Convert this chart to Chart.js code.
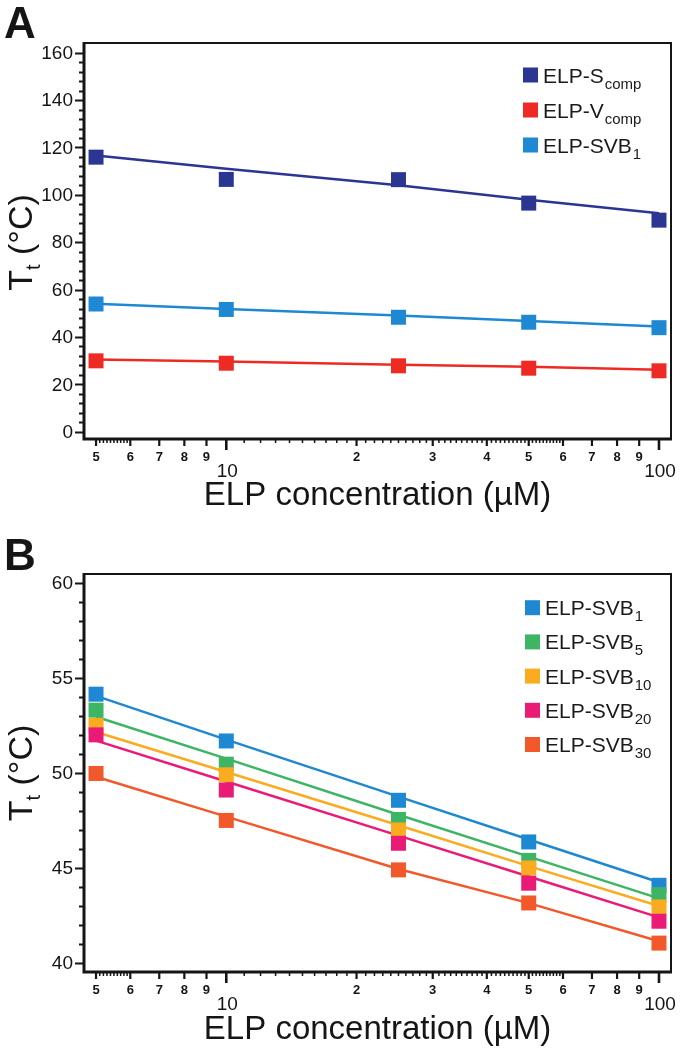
<!DOCTYPE html>
<html>
<head>
<meta charset="utf-8">
<script src="https://cdn.jsdelivr.net/npm/chart.js@4.4.1/dist/chart.umd.min.js"></script>
<style>
    body { margin: 0; background: #fff; }
    canvas { display: block; }
</style>
</head>
<body>
<canvas id="chartA" width="686" height="525"></canvas>
<canvas id="chartB" width="686" height="525"></canvas>
<script>
// concentrations (uM) shared by both panels
const concentrations = [5, 10, 25, 50, 100];

// panel A: measured Tt and fitted line
const sCompPoints = [115.9, 106.5, 106.4, 96.5, 89.3];
const sCompFit    = [116.6, 111.0, 104.0, 97.9, 92.2];
const vCompPoints = [29.9, 28.9, 27.8, 26.8, 25.7];
const vCompFit    = [30.5, 29.6, 28.2, 27.4, 26.1];
const svb1APoints = [53.9, 51.6, 48.3, 46.2, 43.9];
const svb1AFit    = [54.0, 51.8, 49.0, 46.7, 44.4];

// panel B
const svb1Points  = [54.14, 51.68, 48.56, 46.37, 44.09];
const svb1Fit     = [54.05, 51.75, 48.75, 46.5, 44.25];
const svb5Points  = [53.3, 50.46, 47.55, 45.4, 43.6];
const svb5Fit     = [52.95, 50.75, 47.8, 45.6, 43.4];
const svb10Points = [52.5, 49.9, 47.0, 45.0, 42.95];
const svb10Fit    = [52.15, 50.05, 47.25, 45.1, 43.0];
const svb20Points = [52.0, 49.1, 46.3, 44.2, 42.2];
const svb20Fit    = [51.7, 49.55, 46.7, 44.55, 42.4];
const svb30Points = [49.97, 47.5, 44.9, 43.16, 41.05];
const svb30Fit    = [49.8, 47.7, 44.95, 43.15, 41.15];

// tick labels on the log axis
const xMidTicks = [5, 6, 7, 8, 9, 20, 30, 40, 50, 60, 70, 80, 90];
const xMidLabels = ['5', '6', '7', '8', '9', '2', '3', '4', '5', '6', '7', '8', '9'];
const xBigTicks = [10, 100];
const xBigLabels = ['10', '100'];
const yTicksA = [0, 20, 40, 60, 80, 100, 120, 140, 160];
const yTicksB = [40, 45, 50, 55, 60];

const FONT = '"Liberation Sans", Arial, sans-serif';

function pts(values) {
    return values.map((v, i) => ({ x: concentrations[i], y: v }));
}

function pointSet(label, sub, values, color, order) {
    return {
        label: label, sub: sub,
        data: pts(values),
        showLine: false,
        pointStyle: 'rect',
        pointRadius: 10.6,
        pointBackgroundColor: color,
        pointBorderWidth: 0,
        order: order
    };
}

function lineSet(values, color) {
    return {
        data: pts(values),
        borderColor: color,
        borderWidth: 2.5,
        pointRadius: 0,
        tension: 0,
        fill: false,
        order: 20
    };
}

function axesPlugin(cfg) {
    return {
        id: 'axes',
        afterDatasetsDraw(chart) {
            const ctx = chart.ctx;
            const xs = chart.scales.x, ys = chart.scales.y, a = chart.chartArea;
            ctx.save();
            ctx.strokeStyle = '#151515';
            ctx.fillStyle = '#151515';

            // frame
            ctx.lineWidth = 2;
            ctx.beginPath();
            ctx.moveTo(a.left, a.top);
            ctx.lineTo(a.right, a.top);
            ctx.lineTo(a.right, a.bottom);
            ctx.stroke();
            ctx.lineWidth = 3;
            ctx.beginPath();
            ctx.moveTo(a.left, a.top - 1);
            ctx.lineTo(a.left, a.bottom);
            ctx.lineTo(a.right + 1, a.bottom);
            ctx.stroke();

            // y ticks
            const step = cfg.yMinor;
            ctx.lineWidth = 2;
            for (let v = cfg.yTicks[0]; v <= cfg.yTicks[cfg.yTicks.length - 1] + 1e-9; v += step) {
                const py = Math.round(ys.getPixelForValue(v)) + 0.5;
                const major = cfg.yTicks.some(t => Math.abs(t - v) < 1e-6);
                ctx.beginPath();
                ctx.moveTo(a.left - (major ? 9 : 5), py);
                ctx.lineTo(a.left, py);
                ctx.stroke();
            }
            ctx.font = '19px ' + FONT;
            ctx.textAlign = 'right';
            ctx.textBaseline = 'middle';
            cfg.yTicks.forEach(v => {
                ctx.fillText(String(v), a.left - 11, ys.getPixelForValue(v) + 1);
            });

            // x ticks: tiny ones
            ctx.lineWidth = 1.5;
            const tiny = [];
            for (let k = 1; k < 10; k++) tiny.push(5 + k / 10);
            for (let k = 11; k < 60; k++) if (k % 10 !== 0) tiny.push(k);
            tiny.forEach(v => {
                const px = xs.getPixelForValue(v);
                ctx.beginPath();
                ctx.moveTo(px, a.bottom);
                ctx.lineTo(px, a.bottom + 4);
                ctx.stroke();
            });
            ctx.lineWidth = 2.2;
            xMidTicks.forEach(v => {
                const px = xs.getPixelForValue(v);
                ctx.beginPath();
                ctx.moveTo(px, a.bottom);
                ctx.lineTo(px, a.bottom + 7);
                ctx.stroke();
            });
            ctx.lineWidth = 2.6;
            xBigTicks.forEach(v => {
                const px = xs.getPixelForValue(v);
                ctx.beginPath();
                ctx.moveTo(px, a.bottom);
                ctx.lineTo(px, a.bottom + 11);
                ctx.stroke();
            });
            ctx.textAlign = 'center';
            ctx.font = 'bold 13px ' + FONT;
            xMidTicks.forEach((v, i) => {
                ctx.fillText(xMidLabels[i], xs.getPixelForValue(v), a.bottom + 18);
            });
            ctx.font = '19px ' + FONT;
            xBigTicks.forEach((v, i) => {
                ctx.fillText(xBigLabels[i], xs.getPixelForValue(v) + 1, a.bottom + 33);
            });

            // x title
            ctx.font = '33px ' + FONT;
            ctx.fillText('ELP concentration (\u00b5M)', (a.left + a.right) / 2, a.bottom + cfg.xTitleOffset);

            // y title, rotated
            ctx.save();
            ctx.translate(cfg.yTitleX, (a.top + a.bottom) / 2 + cfg.yTitleShift);
            ctx.rotate(-Math.PI / 2);
            ctx.textBaseline = 'alphabetic';
            ctx.textAlign = 'left';
            const big = '34px ' + FONT, small = '20px ' + FONT;
            ctx.font = big; const wT = ctx.measureText('T').width;
            ctx.font = small; const wt = ctx.measureText('t').width;
            ctx.font = big; const wR = ctx.measureText(' (\u00b0C)').width;
            let sx = -(wT + wt + wR) / 2;
            ctx.font = big; ctx.fillText('T', sx, 0); sx += wT;
            ctx.font = small; ctx.fillText('t', sx, 8); sx += wt;
            ctx.font = big; ctx.fillText(' (\u00b0C)', sx, 0);
            ctx.restore();

            // panel letter
            ctx.textAlign = 'left';
            ctx.textBaseline = 'alphabetic';
            ctx.font = 'bold 44px ' + FONT;
            ctx.fillText(cfg.letter, 4, cfg.letterY);

            // legend
            let ly = cfg.legendTop;
            chart.data.datasets.filter(d => d.label).sort((p, q) => p.legendIndex - q.legendIndex).forEach(d => {
                ctx.fillStyle = d.pointBackgroundColor;
                ctx.fillRect(cfg.legendX, ly - 7.5, 15, 15);
                ctx.fillStyle = '#1a1a1a';
                ctx.font = '21px ' + FONT;
                ctx.textAlign = 'left';
                ctx.fillText(d.label, cfg.legendX + 20, ly + 7.5);
                const w = ctx.measureText(d.label).width;
                ctx.font = '15px ' + FONT;
                ctx.fillText(d.sub, cfg.legendX + 20 + w + 1, ly + 13.5);
                ly += cfg.legendStep;
            });
            ctx.restore();
        }
    };
}

function makeChart(id, pad, yMin, yMax, datasets, cfg) {
    datasets.forEach((d, i) => { d.legendIndex = i; });
    return new Chart(document.getElementById(id), {
        type: 'line',
        data: { datasets: datasets },
        options: {
            responsive: false,
            animation: false,
            layout: { padding: pad },
            plugins: { legend: { display: false }, tooltip: { enabled: false } },
            scales: {
                x: { type: 'logarithmic', min: 4.69, max: 106.6, display: false },
                y: { type: 'linear', min: yMin, max: yMax, display: false }
            }
        },
        plugins: [axesPlugin(cfg)]
    });
}

const navy = '#2b3692', red = '#ee2a24', sky = '#1e88d2';
const green = '#3db564', amber = '#fbab1f', pink = '#ea1a77', orange = '#f1592a';

makeChart('chartA', { left: 84, right: 15, top: 43, bottom: 86 }, -3.1, 164.1, [
    pointSet('ELP-S', 'comp', sCompPoints, navy, 2),
    pointSet('ELP-V', 'comp', vCompPoints, red, 1),
    pointSet('ELP-SVB', '1', svb1APoints, sky, 0),
    lineSet(sCompFit, navy),
    lineSet(vCompFit, red),
    lineSet(svb1AFit, sky)
], { yTicks: yTicksA, yMinor: 4, xTitleOffset: 57, yTitleX: 32, yTitleShift: 1.5,
     letter: 'A', letterY: 38, legendX: 523, legendTop: 75, legendStep: 35 });

makeChart('chartB', { left: 84, right: 15, top: 49, bottom: 78 }, 39.53, 60.46, [
    pointSet('ELP-SVB', '1', svb1Points, sky, 4),
    pointSet('ELP-SVB', '5', svb5Points, green, 3),
    pointSet('ELP-SVB', '10', svb10Points, amber, 2),
    pointSet('ELP-SVB', '20', svb20Points, pink, 1),
    pointSet('ELP-SVB', '30', svb30Points, orange, 0),
    lineSet(svb1Fit, sky),
    lineSet(svb5Fit, green),
    lineSet(svb10Fit, amber),
    lineSet(svb20Fit, pink),
    lineSet(svb30Fit, orange)
], { yTicks: yTicksB, yMinor: 1, xTitleOffset: 58, yTitleX: 32, yTitleShift: 0,
     letter: 'B', letterY: 45, legendX: 525, legendTop: 82.7, legendStep: 34.2 });
</script>
</body>
</html>
